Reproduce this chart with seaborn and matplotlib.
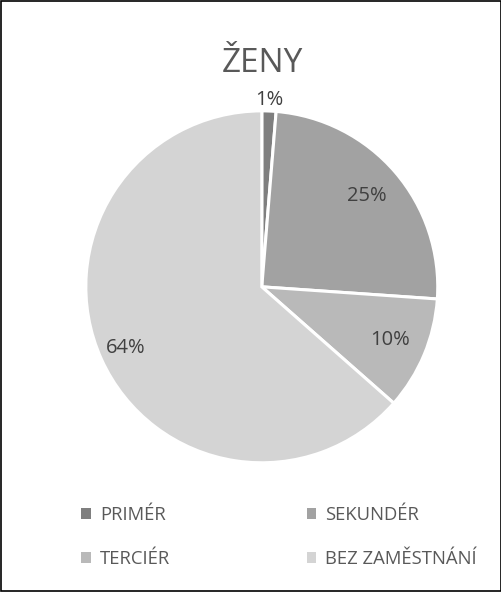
import matplotlib
matplotlib.use('Agg')
import matplotlib.pyplot as plt
from matplotlib.patches import Patch
import numpy as np
import seaborn as sns

# Data (women by education level)
categories = ['PRIMÉR', 'SEKUNDÉR', 'TERCIÉR', 'BEZ ZAMĚSTNÁNÍ']
shares = [1.3, 24.8, 10.4, 63.5]
pct_labels = ['1%', '25%', '10%', '64%']
colors = ['#7f7f7f', '#a2a2a2', '#b9b9b9', '#d4d4d4']

sns.set_theme(style='white')
plt.rcParams['font.family'] = ['Open Sans', 'DejaVu Sans']

fig = plt.figure(figsize=(5.02, 5.92), dpi=100)
ax = fig.add_axes([0.171, 0.218, 0.701, 0.595])

wedges, _ = ax.pie(shares, colors=colors, startangle=90, counterclock=False,
                   wedgeprops=dict(edgecolor='white', linewidth=2.2))
ax.set_xlim(-1, 1)
ax.set_ylim(-1, 1)
ax.set_aspect('equal')

# percentage labels
dists = [1.065, 0.79, 0.79, 0.85]
for w, lab, d in zip(wedges, pct_labels, dists):
    ang = np.deg2rad((w.theta1 + w.theta2) / 2)
    ax.text(d * np.cos(ang), d * np.sin(ang), lab, ha='center', va='center',
            fontsize=14.5, color='#404040')

fig.text(0.522, 0.893, 'ŽENY', ha='center', va='center', fontsize=24, color='#595959')

# legend filled row by row like the original (matplotlib fills columns)
order = [0, 2, 1, 3]
handles = [Patch(facecolor=colors[i], edgecolor='none') for i in order]
fig.legend(handles, [categories[i] for i in order], loc='center left',
           bbox_to_anchor=(0.162, 0.093), ncol=2, frameon=False, fontsize=13.3,
           labelcolor='#595959', handlelength=0.5, handleheight=0.5,
           handletextpad=0.5, columnspacing=7.4, labelspacing=1.4,
           borderpad=0, borderaxespad=0)

fig.patches.append(plt.Rectangle((0.001, 0.001), 0.997, 0.997, transform=fig.transFigure,
                                 fill=False, edgecolor='black', linewidth=1.2))

fig.savefig('out.png', dpi=100, facecolor='white')
